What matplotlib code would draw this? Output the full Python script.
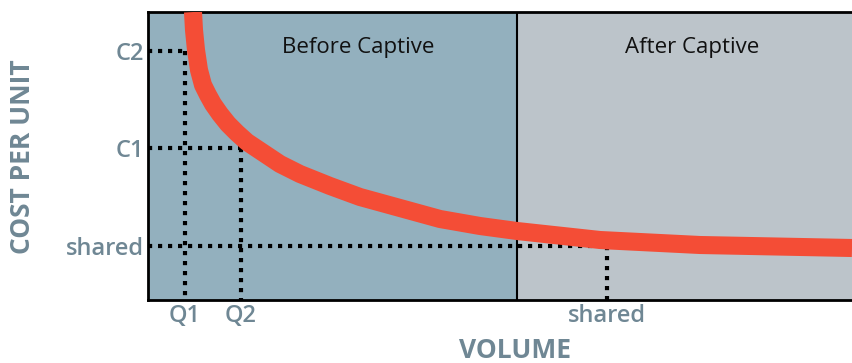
import matplotlib
matplotlib.use('agg')
import matplotlib.pyplot as plt

# cost curve (volume, cost per unit), arbitrary units
volume = [45, 46, 48, 51, 55, 60, 65, 72, 80, 89, 99, 117, 132, 152, 182,
          212, 252, 292, 332, 369, 452, 552, 704]
cost = [288, 270, 250, 230, 215, 205, 196, 186, 176, 167, 158, 146, 136, 126, 114,
        103, 92, 81, 74, 69, 60, 55, 52]

x_ticks = [37, 93, 459]
x_labels = ["Q1", "Q2", "shared"]
y_ticks = [54, 152, 249]
y_labels = ["shared", "C1", "C2"]
captive_at = 369
regions = ["Before Captive", "After Captive"]

grey = "#6f8794"
plt.rcParams['font.family'] = ['Open Sans', 'DejaVu Sans']

fig = plt.figure(figsize=(8.52, 3.63), dpi=100)
ax = fig.add_axes([148/852, 63/363, 704/852, 288/363])
ax.set_xlim(0, 704)
ax.set_ylim(0, 288)

ax.axvspan(0, captive_at, color="#93b0be", lw=0)
ax.axvspan(captive_at, 704, color="#bcc4ca", lw=0)
ax.axvline(captive_at, color="black", lw=1.5)

dots = dict(color="black", lw=3, ls=(0, (1, 1.4)), dash_capstyle="butt")
# horizontal guides from the axis to each quantity, then down to the x axis
ax.plot([0, x_ticks[0]], [y_ticks[2], y_ticks[2]], **dots)
ax.plot([x_ticks[0], x_ticks[0]], [y_ticks[2], 0], **dots)
ax.plot([0, x_ticks[1]], [y_ticks[1], y_ticks[1]], **dots)
ax.plot([x_ticks[1], x_ticks[1]], [y_ticks[1], 0], **dots)
ax.plot([0, x_ticks[2]], [y_ticks[0], y_ticks[0]], **dots)
ax.plot([x_ticks[2], x_ticks[2]], [y_ticks[0], 0], **dots)

ax.plot(volume, cost, color="#f44d36", lw=13, solid_capstyle="butt",
        solid_joinstyle="round", zorder=5)

ax.text(358 - 148, 252, regions[0], ha="center", va="center", fontsize=16, color="#111111")
ax.text(692 - 148, 252, regions[1], ha="center", va="center", fontsize=16, color="#111111")

ax.set_xticks(x_ticks)
ax.set_xticklabels(x_labels)
ax.set_yticks(y_ticks)
ax.set_yticklabels(y_labels)
ax.tick_params(length=0, labelsize=17, labelcolor=grey, pad=3)
for lbl in ax.get_xticklabels() + ax.get_yticklabels():
    lbl.set_fontweight("semibold")

for s in ["left", "top", "bottom"]:
    ax.spines[s].set_linewidth(2)
ax.spines["right"].set_visible(False)

fig.text(515/852, 1 - 350/363, "VOLUME", ha="center", va="center", fontsize=19, fontweight="bold", color=grey)
fig.text(23/852, 1 - 157/363, "COST PER UNIT", ha="center", va="center", rotation=90, fontsize=19, fontweight="bold", color=grey)

fig.savefig("out.png", dpi=100)
plt.close()
